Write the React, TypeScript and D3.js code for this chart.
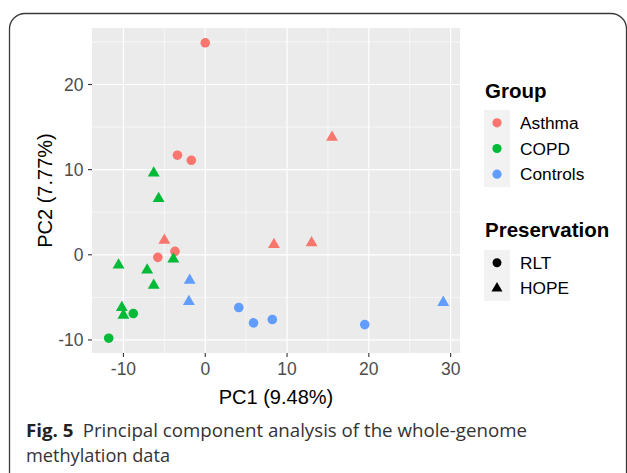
import React from 'react';
import * as d3 from 'd3';

// PCA scores
const groups = ['Asthma', 'COPD', 'Controls'];
const groupColors = ['#F8766D', '#00BA38', '#619CFF'];
const preservations = ['RLT', 'HOPE'];

const pc1 = [
  0, -3.4, -1.7, -5.8, -3.7, // Asthma RLT
  -5.0, 8.4, 13.0, 15.5, // Asthma HOPE
  -6.3, -5.7, -10.6, -7.1, -6.3, -3.9, -10.2, -10.0, // COPD HOPE
  -8.8, -11.8, // COPD RLT
  -1.9, -2.0, 29.1, // Controls HOPE
  4.1, 5.9, 8.2, 19.5, // Controls RLT
];
const pc2 = [
  24.9, 11.7, 11.1, -0.3, 0.4,
  1.7, 1.2, 1.4, 13.8,
  9.6, 6.6, -1.2, -1.8, -3.6, -0.5, -6.2, -7.1,
  -6.9, -9.8,
  -3.0, -5.5, -5.6,
  -6.2, -8.0, -7.6, -8.2,
];
const pointGroup = [
  'Asthma', 'Asthma', 'Asthma', 'Asthma', 'Asthma',
  'Asthma', 'Asthma', 'Asthma', 'Asthma',
  'COPD', 'COPD', 'COPD', 'COPD', 'COPD', 'COPD', 'COPD', 'COPD',
  'COPD', 'COPD',
  'Controls', 'Controls', 'Controls',
  'Controls', 'Controls', 'Controls', 'Controls',
];
const pointPres = [
  'RLT', 'RLT', 'RLT', 'RLT', 'RLT',
  'HOPE', 'HOPE', 'HOPE', 'HOPE',
  'HOPE', 'HOPE', 'HOPE', 'HOPE', 'HOPE', 'HOPE', 'HOPE', 'HOPE',
  'RLT', 'RLT',
  'HOPE', 'HOPE', 'HOPE',
  'RLT', 'RLT', 'RLT', 'RLT',
];
const xTicks = [-10, 0, 10, 20, 30];
const yTicks = [-10, 0, 10, 20];

const W = 627, H = 473;
const panel = { left: 92, right: 460, top: 28, bottom: 353 };
const font = '"Liberation Sans", Arial, sans-serif';
const capFont = '"Open Sans", sans-serif';

function expand(ext: number[]) {
  const pad = (ext[1] - ext[0]) * 0.05;
  return [ext[0] - pad, ext[1] + pad];
}

export default function App() {
  const x = d3.scaleLinear().domain(expand(d3.extent(pc1) as number[])).range([panel.left, panel.right]);
  const y = d3.scaleLinear().domain(expand(d3.extent(pc2) as number[])).range([panel.bottom, panel.top]);
  const color = d3.scaleOrdinal<string, string>().domain(groups).range(groupColors);
  const shape = d3.scaleOrdinal<string, d3.SymbolType>().domain(preservations).range([d3.symbolCircle, d3.symbolTriangle]);
  const sym = (p: string, size: number) => d3.symbol().type(shape(p)).size(p === 'RLT' ? size : size * 0.85)() as string;

  const xMinor = xTicks.map(t => t - 5).concat([35]).filter(t => t > x.domain()[0] && t < x.domain()[1]);
  const yMinor = yTicks.map(t => t - 5).concat([25]).filter(t => t > y.domain()[0] && t < y.domain()[1]);

  const legendKey = d3.scaleBand<number>().domain([0, 1, 2]).range([110, 187]);
  const presKey = d3.scaleBand<number>().domain([0, 1]).range([250, 301]);

  return (
    <svg width={W} height={H} style={{ position: 'absolute', left: 0, top: 0, display: 'block' }}>
      <rect width={W} height={H} fill="#fff" />
      <path d="M9.5,473 L9.5,29 A15.5,15.5 0 0 1 25,13.5 L611,13.5 A15.5,15.5 0 0 1 626.5,29 L626.5,473"
        fill="none" stroke="#3a3a3a" strokeWidth={1.3} />

      {/* panel */}
      <rect x={panel.left} y={panel.top} width={panel.right - panel.left} height={panel.bottom - panel.top} fill="#EBEBEB" />
      {xMinor.map(t => <line key={'xm' + t} x1={x(t)} x2={x(t)} y1={panel.top} y2={panel.bottom} stroke="#fff" strokeWidth={0.6} />)}
      {yMinor.map(t => <line key={'ym' + t} y1={y(t)} y2={y(t)} x1={panel.left} x2={panel.right} stroke="#fff" strokeWidth={0.6} />)}
      {xTicks.map(t => <line key={'xg' + t} x1={x(t)} x2={x(t)} y1={panel.top} y2={panel.bottom} stroke="#fff" strokeWidth={1.2} />)}
      {yTicks.map(t => <line key={'yg' + t} y1={y(t)} y2={y(t)} x1={panel.left} x2={panel.right} stroke="#fff" strokeWidth={1.2} />)}

      {pc1.map((v, i) => (
        <path key={i} d={sym(pointPres[i], 72)} transform={`translate(${x(v)},${y(pc2[i])})`} fill={color(pointGroup[i])} />
      ))}

      {/* axes */}
      {xTicks.map(t => (
        <g key={'xt' + t} transform={`translate(${x(t)},0)`}>
          <line y1={panel.bottom} y2={panel.bottom + 4} stroke="#333" strokeWidth={1.1} />
          <text y={panel.bottom + 21.5} textAnchor="middle" fontFamily={font} fontSize={17.5} fill="#4D4D4D">{t}</text>
        </g>
      ))}
      {yTicks.map(t => (
        <g key={'yt' + t} transform={`translate(0,${y(t)})`}>
          <line x1={panel.left - 4} x2={panel.left} stroke="#333" strokeWidth={1.1} />
          <text x={panel.left - 8.5} dy="0.36em" textAnchor="end" fontFamily={font} fontSize={17.5} fill="#4D4D4D">{t}</text>
        </g>
      ))}
      <text x={(panel.left + panel.right) / 2} y={404} textAnchor="middle" fontFamily={font} fontSize={20} fill="#000">PC1 (9.48%)</text>
      <text transform={`translate(52,${(panel.top + panel.bottom) / 2}) rotate(-90)`} textAnchor="middle" fontFamily={font} fontSize={20} fill="#000">PC2 (7.77%)</text>

      {/* legends */}
      <text x={485} y={98} fontFamily={font} fontSize={20.5} fontWeight="bold">Group</text>
      <rect x={484} y={110} width={26} height={77} fill="#F2F2F2" />
      {groups.map((g, i) => (
        <g key={g} transform={`translate(0,${(legendKey(i) as number) + legendKey.bandwidth() / 2})`}>
          <circle cx={497} r={4.6} fill={color(g)} />
          <text x={520} dy="0.36em" fontFamily={font} fontSize={17.3}>{g}</text>
        </g>
      ))}
      <text x={485} y={237} fontFamily={font} fontSize={20.5} fontWeight="bold">Preservation</text>
      <rect x={484} y={250} width={26} height={51} fill="#F2F2F2" />
      {preservations.map((p, i) => (
        <g key={p} transform={`translate(0,${(presKey(i) as number) + presKey.bandwidth() / 2})`}>
          <path d={sym(p, 62)} transform="translate(497,0)" fill="#000" />
          <text x={520} dy="0.36em" fontFamily={font} fontSize={17.3}>{p}</text>
        </g>
      ))}

      {/* caption */}
      <text x={26} y={437} fontFamily={capFont} fontSize={17.5} fill="#333" textLength={501} lengthAdjust="spacingAndGlyphs">
        <tspan fontWeight="bold" fill="#222">Fig. 5</tspan>
        <tspan>{'\u2002Principal component analysis of the whole-genome'}</tspan>
      </text>
      <text x={26} y={462} fontFamily={capFont} fontSize={17.5} fill="#333" textLength={144} lengthAdjust="spacingAndGlyphs">methylation data</text>
    </svg>
  );
}
